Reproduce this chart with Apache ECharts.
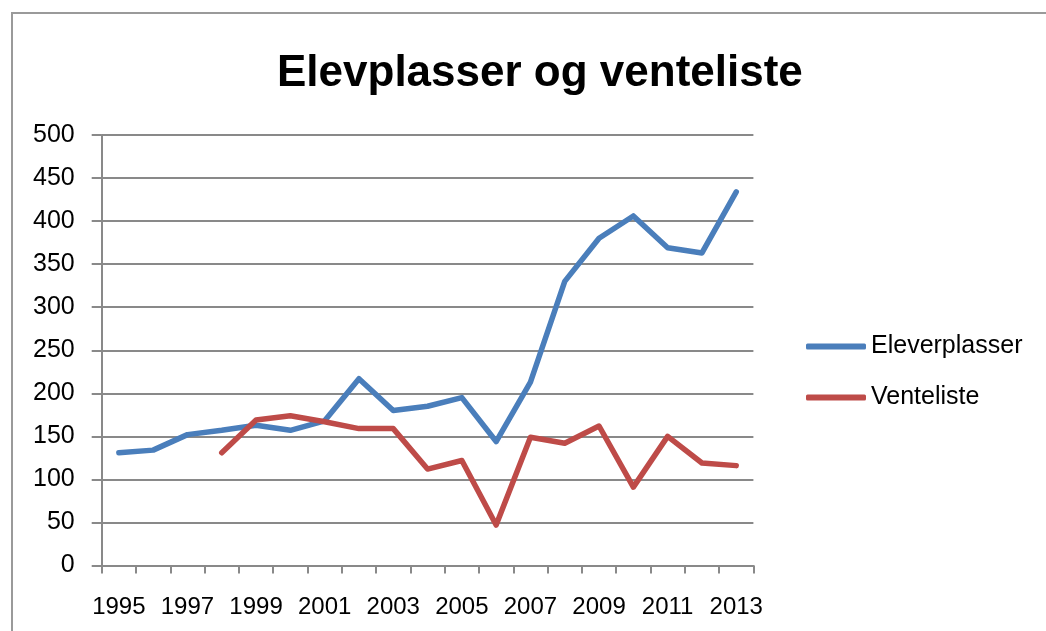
<!DOCTYPE html>
<html>
<head>
<meta charset="utf-8">
<script src="https://cdn.jsdelivr.net/npm/echarts@6/dist/echarts.min.js"></script>
<style>
  html, body { margin: 0; padding: 0; background: #fff; }
  #main { width: 1046px; height: 631px; }
</style>
</head>
<body>
<div id="main"></div>
<script>
// år og verdier lest av figuren
var years = ['1995','1996','1997','1998','1999','2000','2001','2002','2003','2004',
             '2005','2006','2007','2008','2009','2010','2011','2012','2013'];
var elevplasser = [131,134,152,157,163,157,168,217,180,185,195,144,213,330,380,406,369,363,434];
var venteliste = [null,null,null,131,169,174,167,159,159,112,122,47,149,142,162,91,150,119,116];
var yTicks = [0, 50, 500]; // min, steg, maks

var myChart = echarts.init(document.getElementById('main'));
var gray = '#898989';
var option = {
    animation: false,
    backgroundColor: '#fff',
    graphic: [{
        type: 'rect',
        shape: { x: 12, y: 13, width: 1100, height: 700 },
        style: { fill: 'none', stroke: '#9a9a9a', lineWidth: 2 }
    }],
    title: {
        text: 'Elevplasser og venteliste',
        left: 272,
        top: 47,
        textStyle: { fontFamily: 'Liberation Sans', fontWeight: 'bold', fontSize: 44, color: '#000' }
    },
    legend: {
        orient: 'vertical',
        left: 801,
        top: 329,
        itemWidth: 60,
        itemHeight: 6,
        itemGap: 26,
        icon: 'roundRect',
        textStyle: { fontFamily: 'Liberation Sans', fontSize: 25, color: '#000' },
        data: ['Eleverplasser', 'Venteliste']
    },
    grid: { left: 101.7, right: 292.6, top: 135, bottom: 65.5, containLabel: false },
    xAxis: {
        type: 'category',
        data: years,
        boundaryGap: true,
        axisLine: { lineStyle: { color: gray, width: 2 } },
        axisTick: { show: true, length: 8, interval: 0, lineStyle: { color: gray, width: 2 } },
        axisLabel: { interval: 1, margin: 30, fontFamily: 'Liberation Sans', fontSize: 24, color: '#000' }
    },
    yAxis: {
        type: 'value',
        min: yTicks[0],
        max: yTicks[2],
        interval: yTicks[1],
        axisLine: { show: true, lineStyle: { color: gray, width: 2 } },
        axisTick: { show: true, length: 10, lineStyle: { color: gray, width: 2 } },
        axisLabel: { margin: 27, fontFamily: 'Liberation Sans', fontSize: 25, color: '#000' },
        splitLine: { lineStyle: { color: gray, width: 2 } }
    },
    series: [
        {
            name: 'Eleverplasser',
            type: 'line',
            data: elevplasser,
            showSymbol: false,
            symbol: 'none',
            color: '#4a7ebb',
            lineStyle: { width: 5.5, color: '#4a7ebb', cap: 'round', join: 'round' }
        },
        {
            name: 'Venteliste',
            type: 'line',
            data: venteliste,
            showSymbol: false,
            symbol: 'none',
            color: '#be4b48',
            lineStyle: { width: 5.5, color: '#be4b48', cap: 'round', join: 'round' }
        }
    ]
};
myChart.setOption(option);
</script>
</body>
</html>
